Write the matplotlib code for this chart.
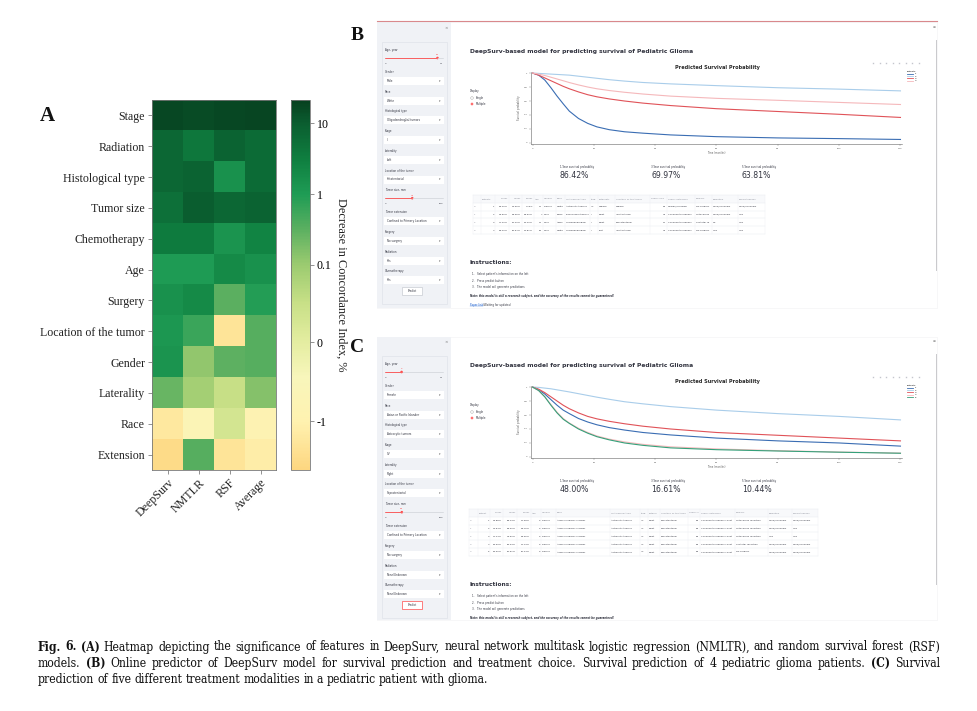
import numpy as np
import matplotlib.pyplot as plt
from matplotlib.colors import LinearSegmentedColormap, FuncNorm
from matplotlib.patches import Rectangle, Circle
from matplotlib.ticker import NullLocator

W, H = 977, 711

# ---- panel A data: decrease in concordance index (%) ----
features = ['Stage', 'Radiation', 'Histological type', 'Tumor size', 'Chemotherapy', 'Age',
            'Surgery', 'Location of the tumor', 'Gender', 'Laterality', 'Race', 'Extension']
models = ['DeepSurv', 'NMTLR', 'RSF', 'Average']
deepsurv = [17, 7, 7, 5, 3.5, 1.0, 1.5, 1.2, 1.3, 0.25, -1.2, -1.5]
nmtlr = [16, 4, 8, 10, 3.5, 1.0, 2.0, 0.6, 0.12, 0.09, -0.7, 0.35]
rsf = [17, 8, 1.5, 7, 1.3, 2.0, 0.32, -1.3, 0.3, 0.05, 0.03, -1.3]
average = [18, 6, 6, 8, 2.5, 1.5, 0.9, 0.35, 0.35, 0.15, -0.9, -1.1]
cbar_ticks = [-1, 0, 0.1, 1, 10]
cbar_labels = ['-1', '0', '0.1', '1', '10']

# ---- panels B / C data ----
months = [0, 2, 4, 6, 8, 10, 12, 15, 18, 21, 25, 30, 36, 45, 60, 80, 100, 120]
b_curves = [
    [1, 0.97, 0.9, 0.79, 0.67, 0.56, 0.455, 0.35, 0.28, 0.23, 0.19, 0.16, 0.14, 0.115, 0.09, 0.072, 0.062, 0.05],
    [1, 0.995, 0.99, 0.985, 0.98, 0.975, 0.97, 0.955, 0.94, 0.925, 0.905, 0.885, 0.865, 0.845, 0.82, 0.79, 0.77, 0.745],
    [1, 0.97, 0.93, 0.89, 0.85, 0.81, 0.775, 0.73, 0.69, 0.66, 0.63, 0.6, 0.57, 0.535, 0.49, 0.45, 0.41, 0.365],
    [1, 0.985, 0.965, 0.94, 0.915, 0.89, 0.864, 0.83, 0.8, 0.775, 0.75, 0.725, 0.70, 0.67, 0.638, 0.61, 0.58, 0.55],
]
c_curves = [
    [1, 0.96, 0.9, 0.82, 0.74, 0.67, 0.62, 0.55, 0.5, 0.46, 0.42, 0.385, 0.35, 0.315, 0.27, 0.23, 0.2, 0.155],
    [1, 0.995, 0.985, 0.975, 0.96, 0.945, 0.93, 0.905, 0.88, 0.855, 0.825, 0.79, 0.76, 0.72, 0.67, 0.62, 0.58, 0.53],
    [1, 0.97, 0.92, 0.86, 0.8, 0.74, 0.69, 0.63, 0.58, 0.545, 0.51, 0.475, 0.44, 0.4, 0.35, 0.31, 0.27, 0.23],
    [1, 0.95, 0.86, 0.75, 0.64, 0.55, 0.485, 0.41, 0.35, 0.3, 0.255, 0.215, 0.18, 0.145, 0.115, 0.09, 0.07, 0.055],
    [1, 0.95, 0.86, 0.74, 0.63, 0.54, 0.48, 0.4, 0.34, 0.29, 0.245, 0.2, 0.166, 0.13, 0.104, 0.085, 0.068, 0.053],
]
curve_colors = ['#3a6db3', '#a9cdea', '#e05258', '#f5b8bb', '#35a07a']
b_metrics = ['86.42%', '69.97%', '63.81%']
c_metrics = ['48.00%', '16.61%', '10.44%']
metric_names = ['1-Year survival probability', '3-Year survival probability', '5-Year survival probability']

b_sidebar = [('slider', 'Age, year', 19, 21), ('select', 'Gender', 'Male'), ('select', 'Race', 'White'),
             ('select', 'Histological type', 'Oligodendroglial tumors'), ('select', 'Stage', 'II'),
             ('select', 'Laterality', 'Left'), ('select', 'Location of the tumor', 'Infratentorial'),
             ('slider', 'Tumor size, mm', 47, 100), ('select', 'Tumor extension', 'Confined to Primary Location'),
             ('select', 'Surgery', 'No surgery'), ('select', 'Radiation', 'Yes'), ('select', 'Chemotherapy', 'Yes')]
c_sidebar = [('slider', 'Age, year', 6, 21), ('select', 'Gender', 'Female'),
             ('select', 'Race', 'Asian or Pacific Islander'), ('select', 'Histological type', 'Astrocytic tumors'),
             ('select', 'Stage', 'IV'), ('select', 'Laterality', 'Right'),
             ('select', 'Location of the tumor', 'Supratentorial'), ('slider', 'Tumor size, mm', 29, 100),
             ('select', 'Tumor extension', 'Confined to Primary Location'), ('select', 'Surgery', 'No surgery'),
             ('select', 'Radiation', 'None/Unknown'), ('select', 'Chemotherapy', 'None/Unknown')]

table_header = ['', 'Patients', '1-Year', '3-Year', '5-Year', 'Age', 'Gender', 'Race', 'Histological type', 'Stage',
                'Laterality', 'Location of the tumor', 'Tumor size', 'Tumor extension', 'Surgery', 'Radiation',
                'Chemotherapy']
b_rows = [
    ['0', '1', '45.46%', '13.35%', '7.13%', '17', 'Female', 'White', 'Astrocytic tumors', 'IV', 'Midline', 'Midline',
     '58', 'Median/Crossing', 'No surgery', 'None/Unknown', 'None/Unknown'],
    ['1', '2', '97.96%', '85.05%', '80.62%', '7', 'Male', 'Black', 'Ependymal tumors', 'I', 'Right', 'Infratentorial',
     '47', 'Confined to Primary Location', 'Total gross resection', 'None/Unknown', 'Yes'],
    ['2', '3', '77.42%', '56.42%', '49.42%', '11', 'Male', 'Asian or Pacific Islander', 'Oligodendroglial tumors',
     'II', 'Right', 'Supratentorial', '11', 'Confined to Primary Location', 'Subtotal resection', 'No', 'Yes'],
    ['3', '4', '86.42%', '69.97%', '63.81%', '19', 'Male', 'White', 'Oligodendroglial tumors', 'II', 'Left',
     'Infratentorial', '47', 'Confined to Primary Location', 'No surgery', 'Yes', 'Yes'],
]
c_common = ['6', 'Female', 'Asian or Pacific Islander', 'Astrocytic tumors', 'IV', 'Right', 'Supratentorial', '29',
            'Confined to Primary Location']
c_rows = [
    ['0', '1', '62.88%', '28.13%', '22.08%'] + c_common + ['Total gross resection', 'None/Unknown', 'None/Unknown'],
    ['1', '2', '93.54%', '84.02%', '80.75%'] + c_common + ['Total gross resection', 'None/Unknown', 'Yes'],
    ['2', '3', '71.44%', '44.62%', '36.05%'] + c_common + ['Total gross resection', 'Yes', 'Yes'],
    ['3', '4', '48.39%', '18.23%', '11.73%'] + c_common + ['Subtotal resection', 'None/Unknown', 'None/Unknown'],
    ['4', '5', '48.00%', '16.61%', '10.44%'] + c_common + ['No surgery', 'None/Unknown', 'None/Unknown'],
]

caption = [
    'Fig. 6. (A) Heatmap depicting the significance of features in DeepSurv, neural network multitask logistic '
    'regression (NMLTR), and random survival forest (RSF)',
    'models. (B) Online predictor of DeepSurv model for survival prediction and treatment choice. Survival '
    'prediction of 4 pediatric glioma patients. (C) Survival',
    'prediction of five different treatment modalities in a pediatric patient with glioma.',
]
bold_words = {'Fig.', '6.', '(A)', '(B)', '(C)'}

SERIF = 'Liberation Serif'
SANS = 'DejaVu Sans'
INK = '#31333f'

fig = plt.figure(figsize=(9.77, 7.11), dpi=100)
bg = fig.add_axes([0, 0, 1, 1])
bg.set_xlim(0, W)
bg.set_ylim(H, 0)
bg.axis('off')


def px_axes(x0, y0, x1, y1):
    return fig.add_axes([x0 / W, 1 - y1 / H, (x1 - x0) / W, (y1 - y0) / H])


# ---------------- panel A ----------------
def fwd(x):
    x = np.asarray(x, dtype=float)
    lg = 0.554 + (np.log10(np.maximum(x, 0.1)) + 1) * 0.1915
    return np.where(x >= 0.1, lg, np.where(x >= 0, 0.345 + x / 0.1 * 0.209, 0.345 + x * 0.213))


def inv(p):
    p = np.asarray(p, dtype=float)
    hi = 10 ** ((np.maximum(p, 0.554) - 0.554) / 0.1915 - 1)
    return np.where(p >= 0.554, hi, np.where(p >= 0.345, (p - 0.345) / 0.209 * 0.1, (p - 0.345) / 0.213))


norm = FuncNorm((fwd, inv), vmin=-1.62, vmax=21.3)
cmap = LinearSegmentedColormap.from_list('ylgn', [
    (0.0, '#fdd680'), (0.13, '#fff2b0'), (0.25, '#f8f6bb'), (0.345, '#e4eda1'), (0.45, '#c8e087'),
    (0.554, '#9ccb70'), (0.65, '#5cb061'), (0.745, '#1f9c55'), (0.84, '#0f7f40'), (0.937, '#0b5e30'),
    (1.0, '#07401f')])

ax = px_axes(152, 100, 276, 470)
data = np.column_stack([deepsurv, nmtlr, rsf, average])
im = ax.imshow(data, cmap=cmap, norm=norm, aspect='auto', interpolation='nearest')
ax.set_yticks(range(len(features)))
ax.set_yticklabels(features, fontfamily=SERIF, fontsize=8.6, color='#222')
ax.set_xticks(range(len(models)))
ax.set_xticklabels(models, fontfamily=SERIF, fontsize=8.6, color='#222', rotation=45, ha='right',
                   rotation_mode='anchor')
ax.tick_params(length=3, width=0.5, color='#666', pad=2)
for s in ax.spines.values():
    s.set_color('#777')
    s.set_linewidth(0.6)

cax = px_axes(291, 100, 310, 470)
cb = fig.colorbar(im, cax=cax)
cb.set_ticks(cbar_ticks)
cb.set_ticklabels(cbar_labels)
cax.yaxis.set_minor_locator(NullLocator())
cax.tick_params(length=3, width=0.5, color='#666', pad=2, labelsize=8.6)
for lab in cax.get_yticklabels():
    lab.set_fontfamily(SERIF)
cb.outline.set_edgecolor('#777')
cb.outline.set_linewidth(0.6)
cb.set_label('Decrease in Concordance Index, %', rotation=270, labelpad=11, fontfamily=SERIF, fontsize=8.8,
             color='#222')

bg.text(47, 116, 'A', fontfamily=SERIF, fontweight='bold', fontsize=15, ha='center', va='center', color='#111')
bg.text(357, 35, 'B', fontfamily=SERIF, fontweight='bold', fontsize=14, ha='center', va='center', color='#111')
bg.text(357, 347, 'C', fontfamily=SERIF, fontweight='bold', fontsize=14, ha='center', va='center', color='#111')


# ---------------- panels B / C ----------------
def draw_sidebar(x0, y_top, y_bot, dy, items, red_button):
    bg.add_patch(Rectangle((x0, y_top), 74, y_bot - y_top, fc='#f0f2f6', ec='none'))
    bg.add_patch(Rectangle((x0 + 5, 42 + dy), 65, 262, fc='#f0f2f6', ec='#dcdfe6', lw=0.4))
    bg.text(x0 + 69, 28 + dy, '×', fontsize=3, color='#777', ha='center', va='center')
    y = 50 + dy
    for it in items:
        bg.text(x0 + 8, y, it[1], fontsize=1.9, color=INK, va='center', fontfamily=SANS)
        if it[0] == 'slider':
            frac = it[2] / it[3]
            tx0, tx1 = x0 + 8, x0 + 66
            kx = tx0 + frac * (tx1 - tx0)
            bg.plot([tx0, tx1], [y + 8, y + 8], color='#d5d8de', lw=0.6, solid_capstyle='round')
            bg.plot([tx0, kx], [y + 8, y + 8], color='#ff4b4b', lw=0.6, solid_capstyle='round')
            bg.add_patch(Circle((kx, y + 8), 1.3, fc='#ff4b4b', ec='none'))
            bg.text(kx, y + 4.8, str(it[2]), fontsize=1.7, color='#ff4b4b', ha='center', va='center')
            bg.text(tx0, y + 13, '0', fontsize=1.7, color=INK, va='center')
            bg.text(tx1, y + 13, str(it[3]), fontsize=1.7, color=INK, ha='right', va='center')
            y += 22
        else:
            bg.add_patch(Rectangle((x0 + 7, y + 5), 60, 8, fc='white', ec='none'))
            bg.text(x0 + 10, y + 9, it[2], fontsize=2.0, color=INK, va='center', fontfamily=SANS)
            bg.text(x0 + 63, y + 9, '▾', fontsize=2.2, color='#555', ha='center', va='center')
            y += 19.7
    ec = '#ff4b4b' if red_button else '#c9ccd3'
    bg.add_patch(Rectangle((x0 + 25, y - 4), 20, 8, fc='white', ec=ec, lw=0.5))
    bg.text(x0 + 35, y, 'Predict', fontsize=1.9, color=INK, ha='center', va='center')


def draw_table(bounds, y0, rows):
    rh = 7.8
    nrow = len(rows) + 1
    bg.add_patch(Rectangle((bounds[0], y0), bounds[-1] - bounds[0], rh, fc='#f8f9fb', ec='none'))
    for i in range(nrow + 1):
        bg.plot([bounds[0], bounds[-1]], [y0 + i * rh, y0 + i * rh], color='#e6e8ee', lw=0.3)
    for b in bounds:
        bg.plot([b, b], [y0, y0 + nrow * rh], color='#eceef2', lw=0.3)
    for r, row in enumerate([table_header] + rows):
        yc = y0 + (r + 0.5) * rh
        for c, cell in enumerate(row):
            w = bounds[c + 1] - bounds[c]
            txt = cell[:max(1, int((w - 2) / 1.3))]
            col = '#8a8d99' if (r == 0 or c == 0) else INK
            if cell[:1].isdigit() and c > 0:
                bg.text(bounds[c + 1] - 1, yc, txt, fontsize=1.7, color=col, ha='right', va='center')
            else:
                bg.text(bounds[c] + 1, yc, txt, fontsize=1.7, color=col, ha='left', va='center')


def draw_app(dy, y_top, y_bot, sidebar, curves, metrics, rows, bounds, red_button, link):
    bg.add_patch(Rectangle((377, y_top), 560, y_bot - y_top, fc='white', ec='#f1f1f3', lw=0.4))
    if dy == 0:
        bg.plot([377, 937], [21, 21], color='#d9898c', lw=0.8)
    bg.plot([936, 936], [40 + dy, 270 + dy], color='#c9c9cc', lw=0.7)
    bg.text(934, 27 + dy, '≡', fontsize=2.5, color='#666', ha='center', va='center')
    draw_sidebar(377, y_top, y_bot, dy, sidebar, red_button)

    bg.text(470, 51 + dy, 'DeepSurv-based model for predicting survival of Pediatric Glioma', fontsize=4.3,
            fontweight='bold', color=INK, va='center', fontfamily=SANS)
    bg.text(717, 67 + dy, 'Predicted Survival Probability', fontsize=3.6, fontweight='bold', color='#2a2a2a',
            ha='center', va='center', fontfamily=SANS)
    for k in range(8):
        bg.plot(873 + k * 6.5, 63 + dy, marker='s', ms=1.0, color='#c4c6cc', mec='none')
    # radio
    bg.text(470, 91 + dy, 'Display', fontsize=1.9, color=INK, va='center')
    bg.add_patch(Circle((472, 98 + dy), 1.3, fc='white', ec='#999', lw=0.3))
    bg.add_patch(Circle((472, 104 + dy), 1.3, fc='#ff4b4b', ec='none'))
    bg.add_patch(Circle((472, 104 + dy), 0.5, fc='white', ec='none'))
    bg.text(476, 98 + dy, 'Single', fontsize=1.9, color=INK, va='center')
    bg.text(476, 104 + dy, 'Multiple', fontsize=1.9, color=INK, va='center')

    # survival chart
    sax = px_axes(531, 72 + dy, 902, 144 + dy)
    for i, vals in enumerate(curves):
        sax.plot(months, vals, color=curve_colors[i], lw=0.8, label=str(i + 1))
    sax.set_xlim(-0.5, 120.5)
    sax.set_ylim(-0.015, 1.015)
    sax.set_xticks(range(0, 121, 20))
    sax.set_yticks(np.arange(0, 1.01, 0.2))
    sax.set_yticklabels(['0', '0.2', '0.4', '0.6', '0.8', '1'])
    sax.tick_params(labelsize=1.7, labelcolor='#555', length=1.2, width=0.3, color='#888', pad=1.5)
    for side in ['top', 'right']:
        sax.spines[side].set_visible(False)
    for side in ['left', 'bottom']:
        sax.spines[side].set_color('#666')
        sax.spines[side].set_linewidth(0.4)
    sax.set_xlabel('Time (months)', fontsize=1.8, color='#555', labelpad=1.5)
    sax.set_ylabel('Survival probability', fontsize=1.8, color='#555', labelpad=2)
    leg = sax.legend(title='Patients', fontsize=1.7, title_fontsize=1.7, loc='upper left',
                     bbox_to_anchor=(1.01, 1.03), frameon=False, handlelength=2.5, labelspacing=0.3,
                     borderaxespad=0)
    for line in leg.get_lines():
        line.set_linewidth(0.6)

    # metrics
    for k, (name, val) in enumerate(zip(metric_names, metrics)):
        mx = 560 + k * 91
        bg.text(mx, 167 + dy, name, fontsize=1.9, color=INK, va='center')
        bg.text(mx, 175.5 + dy, val, fontsize=5.6, color=INK, va='center', fontfamily=SANS)

    draw_table(bounds, 195 + dy, rows)

    iy = 263 + dy if dy == 0 else 271 + dy
    bg.text(470, iy, 'Instructions:', fontsize=4.2, fontweight='bold', color=INK, va='center')
    steps = ["Select patient's information on the left", 'Press predict button', 'The model will generate predictions']
    for k, s in enumerate(steps):
        bg.text(472, iy + 11 + k * 6.6, f'{k + 1}.   {s}', fontsize=1.9, color=INK, va='center')
    bg.text(470, iy + 33, 'Note: this model is still a research subject, and the accuracy of the results cannot be '
            'guaranteed!', fontsize=1.9, fontweight='bold', fontstyle='italic', color=INK, va='center')
    if link:
        bg.text(470, iy + 42, 'Paper link', fontsize=1.9, color='#1a5fd0', va='center')
        bg.plot([470, 483], [iy + 43.3, iy + 43.3], color='#1a5fd0', lw=0.25)
        bg.text(483, iy + 42, '(Waiting for updates)', fontsize=1.9, color=INK, va='center')


b_bounds = [473, 481, 495, 509, 522, 534, 543, 556, 565, 590, 598, 615, 650, 667, 695, 712, 738, 765]
c_bounds = [469, 478, 490, 503, 517, 531, 541, 556, 610, 640, 648, 660, 688, 700, 735, 768, 792, 818]

draw_app(0, 22, 308, b_sidebar, b_curves, b_metrics, b_rows, b_bounds, False, True)
draw_app(314, 337, 620, c_sidebar, c_curves, c_metrics, c_rows, c_bounds, True, False)

# ---------------- caption (justified, size fitted to the first line) ----------------
renderer = fig.canvas.get_renderer()
left, right = 38, 940
cap_family = ['DejaVu Serif', 'Liberation Serif']
lines = []
for li, line in enumerate(caption):
    words = line.split(' ')
    texts = [bg.text(0, 650.5 + li * 16.3, wd, fontsize=9, fontfamily=cap_family, fontstretch='condensed',
                     color='#111', va='baseline', fontweight='bold' if wd in bold_words else 'normal')
             for wd in words]
    lines.append(texts)

first = [t.get_window_extent(renderer).width for t in lines[0]]
space9 = 9 * 100 / 72 * 0.26
natural = sum(first) + space9 * (len(first) - 1)
cap_fs = 9 * (right - left) / natural * 0.985
space_px = cap_fs * 100 / 72 * 0.26

for li, texts in enumerate(lines):
    for t in texts:
        t.set_fontsize(cap_fs)
    widths = [t.get_window_extent(renderer).width for t in texts]
    if li < len(lines) - 1:
        gap = (right - left - sum(widths)) / (len(texts) - 1)
    else:
        gap = space_px
    x = left
    for t, w in zip(texts, widths):
        t.set_x(x)
        x += w + gap

fig.savefig('out.png', dpi=100)
